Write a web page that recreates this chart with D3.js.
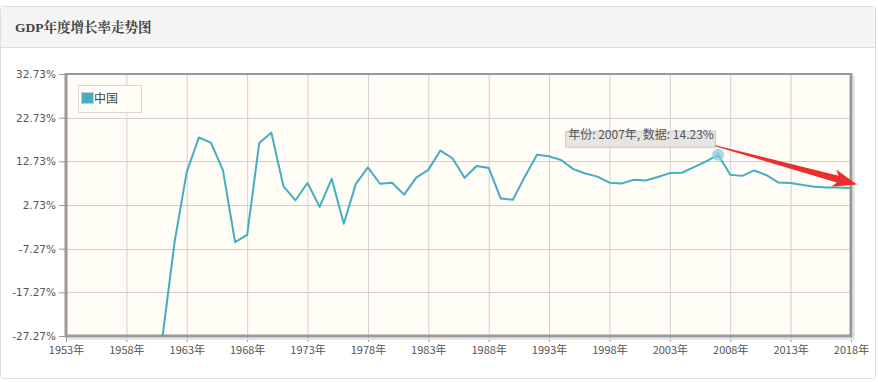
<!DOCTYPE html>
<html><head><meta charset="utf-8">
<script src="https://cdn.jsdelivr.net/npm/d3@7"></script>
<style>
body{margin:0;background:#fff;font-family:"Noto Sans CJK SC","DejaVu Sans",sans-serif;}
</style></head>
<body><svg id="c" width="878" height="382"></svg>
<script>
const title = "GDP年度增长率走势图";
const seriesName = "中国";
const years = [1961,1962,1963,1964,1965,1966,1967,1968,1969,1970,1971,1972,1973,1974,1975,1976,1977,1978,1979,1980,1981,1982,1983,1984,1985,1986,1987,1988,1989,1990,1991,1992,1993,1994,1995,1996,1997,1998,1999,2000,2001,2002,2003,2004,2005,2006,2007,2008,2009,2010,2011,2012,2013,2014,2015,2016,2017,2018];
const growth = [-27.27,-5.58,10.30,18.18,17.00,10.65,-5.77,-4.10,16.95,19.30,7.06,3.81,7.76,2.31,8.72,-1.57,7.57,11.33,7.60,7.81,5.11,9.00,10.77,15.19,13.43,8.95,11.66,11.22,4.21,3.92,9.26,14.22,13.87,13.05,10.95,9.93,9.23,7.84,7.67,8.49,8.34,9.13,10.04,10.11,11.39,12.72,14.23,9.65,9.40,10.64,9.55,7.86,7.77,7.30,6.91,6.74,6.76,6.60];
const yTicks = [-27.27,-17.27,-7.27,2.73,12.73,22.73,32.73];
const xTicks = [1953,1958,1963,1968,1973,1978,1983,1988,1993,1998,2003,2008,2013,2018];
const highlightYear = 2007;

const svg = d3.select("#c");
// panel
svg.append("rect").attr("x",0.5).attr("y",6.5).attr("width",875).attr("height",372).attr("rx",3)
  .attr("fill","#fff").attr("stroke","#dddddd");
svg.append("rect").attr("x",1).attr("y",7).attr("width",874).attr("height",40).attr("fill","#f5f5f5");
svg.append("line").attr("x1",1).attr("x2",875).attr("y1",47.5).attr("y2",47.5).attr("stroke","#dddddd");
svg.append("text").attr("x",15).attr("y",32).text(title)
  .attr("font-family","'Liberation Serif','Noto Serif CJK SC','Noto Sans CJK SC',serif").attr("font-weight","bold")
  .attr("font-size",13.5).attr("fill","#444");

const x = d3.scaleLinear().domain([1953,2018]).range([66,851]);
const y = d3.scaleLinear().domain([-27.27,32.73]).range([336,74]);

// plot background
svg.append("rect").attr("x",x(1953)).attr("y",y(32.73)).attr("width",x(2018)-x(1953)).attr("height",y(-27.27)-y(32.73)).attr("fill","#fffdf6");

// grid
const g = svg.append("g");
g.selectAll("line.gx").data(xTicks.slice(1,-1)).join("line").attr("x1",d=>x(d)+0.5).attr("x2",d=>x(d)+0.5)
  .attr("y1",y(32.73)).attr("y2",y(-27.27)).attr("stroke","#d0d0d0");
g.selectAll("line.gy").data(yTicks.slice(1,-1)).join("line").attr("y1",d=>Math.round(y(d))+0.5).attr("y2",d=>Math.round(y(d))+0.5)
  .attr("x1",x(1953)).attr("x2",x(2018)).attr("stroke","#d0d0d0");

// axes
const yAxis = d3.axisLeft(y).tickValues(yTicks).tickSize(7).tickPadding(3).tickFormat(d=>d.toFixed(2)+"%");
const ya = svg.append("g").attr("transform",`translate(${x(1953)},0)`).call(yAxis);
ya.select(".domain").remove();
ya.selectAll("line").attr("stroke","#999");
ya.selectAll("text").attr("fill","#555").attr("font-family","'DejaVu Sans',sans-serif").attr("font-size",10.5);

const xAxis = d3.axisBottom(x).tickValues(xTicks).tickSize(6).tickPadding(4).tickFormat(d=>d+"年");
const xa = svg.append("g").attr("transform",`translate(0,${y(-27.27)})`).call(xAxis);
xa.select(".domain").remove();
xa.selectAll("line").attr("stroke","#999");
xa.selectAll("text").attr("font-size",11).attr("fill","#555").attr("font-family","'Noto Sans CJK SC',sans-serif");

// frame
const fx0=x(1953), fx1=x(2018), fy0=y(32.73), fy1=y(-27.27);
svg.append("line").attr("x1",fx0).attr("x2",fx1).attr("y1",fy0).attr("y2",fy0).attr("stroke","#999").attr("stroke-width",2);
svg.append("line").attr("x1",fx1+3).attr("x2",fx1+3).attr("y1",fy0+2).attr("y2",fy1+3).attr("stroke","#e4e4e4").attr("stroke-width",2);
svg.append("line").attr("x1",fx0+2).attr("x2",fx1+3).attr("y1",fy1+3).attr("y2",fy1+3).attr("stroke","#e4e4e4").attr("stroke-width",2);
svg.append("line").attr("x1",fx1).attr("x2",fx1).attr("y1",fy0-1).attr("y2",fy1+1).attr("stroke","#999").attr("stroke-width",3);
svg.append("line").attr("x1",fx0).attr("x2",fx0).attr("y1",fy0-1).attr("y2",fy1+1).attr("stroke","#999").attr("stroke-width",3);
svg.append("line").attr("x1",fx0-1).attr("x2",fx1+1).attr("y1",fy1).attr("y2",fy1).attr("stroke","#999").attr("stroke-width",3);

// line
const data = years.map((yr,i)=>({yr,v:growth[i]}));
svg.append("path").datum(data).attr("fill","none").attr("stroke","#45adc0").attr("stroke-width",2)
  .attr("stroke-linejoin","round")
  .attr("d",d3.line().x(d=>x(d.yr)).y(d=>y(d.v)));

// legend
svg.append("rect").attr("x",78.5).attr("y",85.5).attr("width",63).attr("height",27).attr("fill","#fffdf6").attr("stroke","#d8d8d8");
svg.append("rect").attr("x",81.5).attr("y",92.5).attr("width",12).attr("height",11).attr("fill","#45adc0").attr("stroke","#ccc");
svg.append("text").attr("x",94).attr("y",103).text(seriesName).attr("font-size",12).attr("fill","#444");

// highlight
const hi = data.find(d=>d.yr===highlightYear);
const hx=x(hi.yr), hy=y(hi.v);
svg.append("circle").attr("cx",hx).attr("cy",hy).attr("r",6).attr("fill","#8fd0de").attr("opacity",0.8);
svg.append("path").attr("d",`M${hx},${hy-3}L${hx+3},${hy+3}L${hx-3},${hy+3}Z`).attr("fill","#7cc6d6");

// tooltip
const tipText = `年份: ${hi.yr}年, 数据: ${hi.v.toFixed(2)}%`;
const tip = svg.append("g");
const tr = tip.append("rect").attr("fill","#e4e4e4").attr("stroke","#c8c8c8").attr("opacity",0.95);
const tt = tip.append("text").attr("x",hx-150).attr("y",hy-16).text(tipText).attr("font-size",12).attr("fill","#555")
  .attr("font-family","'Noto Sans CJK SC',sans-serif");
const bb = tt.node().getBBox();
tr.attr("x",bb.x-2.5).attr("y",hy-23.5).attr("width",bb.width+4).attr("height",16);

// red arrow annotation
const ax0=hx-3, ay0=hy-9, ax1=fx1+6, ay1=y(7.45);
const ang=Math.atan2(ay1-ay0,ax1-ax0), len=Math.hypot(ax1-ax0,ay1-ay0);
const pts=[[0,-0.5],[len-20,-3.5],[len-24,-9],[len,0],[len-24,9],[len-20,3.5],[0,0.5]];
svg.append("polygon").attr("fill","#ea2f2f")
  .attr("points",pts.map(([a,b])=>[ax0+a*Math.cos(ang)-b*Math.sin(ang), ay0+a*Math.sin(ang)+b*Math.cos(ang)].join(",")).join(" "));
</script></body></html>
